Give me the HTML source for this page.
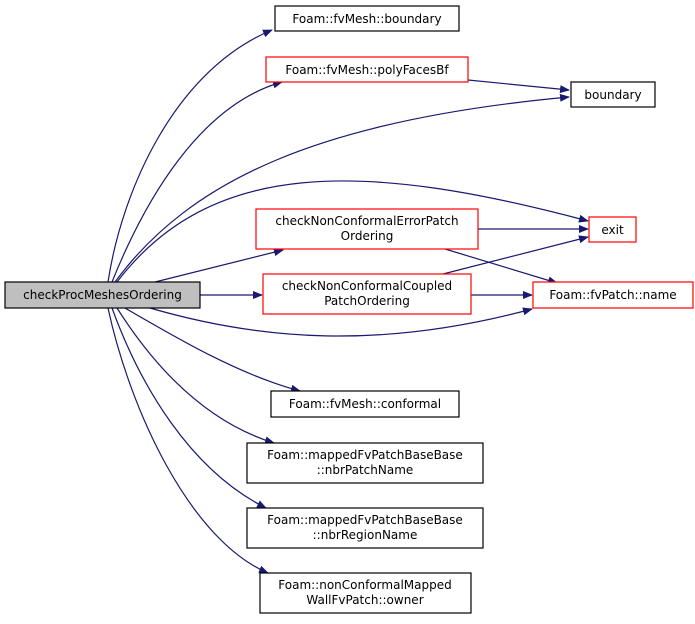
<!DOCTYPE html>
<html><head><meta charset="utf-8"><style>
body{margin:0;background:#fff;}
svg text{font-family:"DejaVu Sans","Liberation Sans",sans-serif;font-size:12px;fill:#000;}
</style></head><body>
<svg width="695" height="619" viewBox="0 0 695 619" xmlns="http://www.w3.org/2000/svg">
<defs><marker id="a" markerWidth="10" markerHeight="8" refX="9" refY="4" orient="auto" markerUnits="userSpaceOnUse">
<path d="M0,0 L10,4 L0,8 Z" fill="#191970"/></marker></defs>
<g fill="none" stroke="#191970" stroke-width="1.2" marker-end="url(#a)">
<path d="M108,282 C122,190 175,70 272,30"/>
<path d="M112,282 C145,200 200,105 282,82"/>
<path d="M115,282 C190,180 320,120 569,97"/>
<path d="M117,282 C210,160 360,160 588,221"/>
<path d="M155,282 L283,250"/>
<path d="M200,295 L262,295"/>
<path d="M150,308 C260,340 380,350 532,309"/>
<path d="M468,80 L569,90"/>
<path d="M478,229 L588,229"/>
<path d="M445,249 L557,283"/>
<path d="M443,274 L588,237"/>
<path d="M471,295 L532,295"/>
<path d="M125,308 C180,340 240,375 300,391"/>
<path d="M117,308 C150,360 200,420 274,443"/>
<path d="M112,308 C140,385 190,470 266,508"/>
<path d="M108,308 C130,410 190,540 268,573"/>
</g>
<g stroke-width="1.2">
<rect x="5" y="282" width="195" height="26" fill="#bfbfbf" stroke="#000"/>
<rect x="275" y="6" width="184" height="25" fill="#fff" stroke="#000"/>
<rect x="266" y="57" width="202" height="25" fill="#fff" stroke="#f00"/>
<rect x="571" y="82" width="84" height="25" fill="#fff" stroke="#000"/>
<rect x="256" y="209" width="222" height="40" fill="#fff" stroke="#f00"/>
<rect x="589" y="217" width="47" height="25" fill="#fff" stroke="#f00"/>
<rect x="263" y="274" width="208" height="40" fill="#fff" stroke="#f00"/>
<rect x="533" y="282" width="160" height="26" fill="#fff" stroke="#f00"/>
<rect x="271" y="391" width="188" height="26" fill="#fff" stroke="#000"/>
<rect x="247" y="443" width="236" height="40" fill="#fff" stroke="#000"/>
<rect x="247" y="508" width="236" height="40" fill="#fff" stroke="#000"/>
<rect x="260" y="573" width="211" height="40" fill="#fff" stroke="#000"/>
</g>
<g text-anchor="middle">
<text x="102.5" y="299">checkProcMeshesOrdering</text>
<text x="367" y="23">Foam::fvMesh::boundary</text>
<text x="367" y="74">Foam::fvMesh::polyFacesBf</text>
<text x="613" y="99">boundary</text>
<text x="367" y="225">checkNonConformalErrorPatch</text>
<text x="367" y="240">Ordering</text>
<text x="612.5" y="234">exit</text>
<text x="367" y="290">checkNonConformalCoupled</text>
<text x="367" y="305">PatchOrdering</text>
<text x="613" y="299">Foam::fvPatch::name</text>
<text x="365" y="408">Foam::fvMesh::conformal</text>
<text x="365" y="459">Foam::mappedFvPatchBaseBase</text>
<text x="365" y="474">::nbrPatchName</text>
<text x="365" y="524">Foam::mappedFvPatchBaseBase</text>
<text x="365" y="539">::nbrRegionName</text>
<text x="365" y="589">Foam::nonConformalMapped</text>
<text x="365" y="604">WallFvPatch::owner</text>
</g>
</svg>
</body></html>
